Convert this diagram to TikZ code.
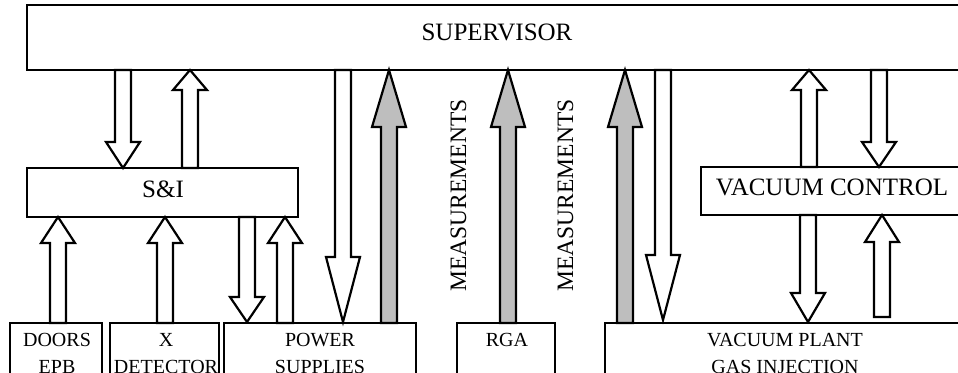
\documentclass[tikz,border=0pt]{standalone}
\usepackage{fontspec}
\setmainfont{Liberation Serif}
\tikzset{
  box/.style={draw=black, line width=2.2pt, fill=white},
  blk/.style={draw=black, line width=2.2pt, line join=miter},
  lbl/.style={anchor=base, inner sep=0pt, font=\fontsize{20}{27}\selectfont, align=center},
  big/.style={anchor=base, inner sep=0pt, font=\fontsize{25}{30}\selectfont},
  meas/.style={anchor=base, inner sep=0pt, rotate=90, font=\fontsize{23.5}{28}\selectfont},
}
\definecolor{measgray}{RGB}{190,190,190}
% fill, x, y tail, y head base, y tip
\newcommand\barr[5]{%
  \draw[blk, fill=#1] ({#2-8},#3) -- ({#2-8},#4) -- ({#2-17},#4) -- (#2,#5)
    -- ({#2+17},#4) -- ({#2+8},#4) -- ({#2+8},#3) -- cycle;}
\begin{document}
\begin{tikzpicture}[x=1pt, y=-1pt]
\useasboundingbox (0,0) rectangle (958,372);
\clip (0,0) rectangle (958,372);
% boxes
\draw[box] (27,5) rectangle (1000,70);
\node[big] (sup) at (497,40) {SUPERVISOR};
\draw[box] (27,168) rectangle (298,217);
\node[big] (si) at (163,197) {S\&I};
\draw[box] (701,167) rectangle (1000,215);
\node[big] (vc) at (832,195) {VACUUM CONTROL};
\draw[box] (10,323) rectangle (102,400);
\node[lbl] (doors) at (57,373) {DOORS\\EPB};
\draw[box] (110,323) rectangle (219,400);
\node[lbl] (xdet) at (166,373) {X\\DETECTOR};
\draw[box] (224,323) rectangle (416,400);
\node[lbl] (ps) at (320,373) {POWER\\SUPPLIES};
\draw[box] (457,323) rectangle (555,400);
\node[lbl] (rga) at (507,346) {RGA};
\draw[box] (605,323) rectangle (1000,400);
\node[lbl] (vp) at (785,373) {VACUUM PLANT\\GAS INJECTION};
% measurement labels
\node[meas] (m1) at (466,195.5) {MEASUREMENTS};
\node[meas] (m2) at (573,195.5) {MEASUREMENTS};
% arrows
\barr{white}{123}{70}{142}{168}
\barr{white}{190}{168}{90}{70}
\barr{white}{343}{70}{257}{322}
\barr{measgray}{389}{323}{127}{70}
\barr{measgray}{508}{323}{127}{70}
\barr{measgray}{625}{323}{127}{70}
\barr{white}{663}{70}{255}{320}
\barr{white}{809}{167}{90}{70}
\barr{white}{879}{70}{142}{167}
\barr{white}{808}{215}{293}{322}
\barr{white}{882}{317}{242}{215}
\barr{white}{58}{323}{243}{217}
\barr{white}{165}{323}{243}{217}
\barr{white}{247}{217}{297}{322}
\barr{white}{285}{323}{243}{217}
\end{tikzpicture}
\end{document}
